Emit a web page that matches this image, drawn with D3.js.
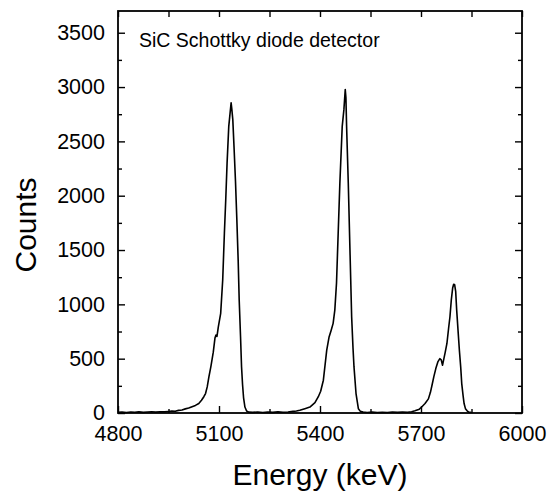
<!DOCTYPE html>
<html>
<head>
<meta charset="utf-8">
<script src="https://cdn.jsdelivr.net/npm/d3@7"></script>
<style>
  body { margin: 0; background: #fff; }
  text { font-family: "Liberation Sans", Arial, sans-serif; fill: #000; }
</style>
</head>
<body>
<div id="chart"></div>
<script>
// Spectrum: energy (keV) and counts
var energy = [4800, 4812, 4825, 4838, 4850, 4862, 4875, 4888, 4900, 4912, 4925, 4938, 4950, 4960, 4970, 4980, 4990, 5000, 5010, 5020, 5030, 5040, 5048, 5055, 5060, 5065, 5070, 5076, 5083, 5088, 5091, 5094, 5098, 5105, 5111, 5116, 5120, 5124, 5129, 5133, 5136, 5138, 5141, 5145, 5149, 5153, 5157, 5160, 5164, 5167, 5170, 5173, 5177, 5182, 5188,
  5200, 5215, 5230, 5245, 5260, 5275, 5290, 5305, 5320, 5330, 5340, 5355, 5370, 5385, 5395, 5402, 5410, 5420, 5427, 5433, 5439, 5444, 5449, 5454, 5459, 5466, 5471, 5475, 5477, 5479, 5484, 5489, 5494, 5498, 5501, 5507, 5514, 5520, 5528,
  5540, 5555, 5570, 5585, 5600, 5615, 5630, 5645, 5660, 5672, 5682, 5695, 5702, 5712, 5722, 5728, 5733, 5738, 5744, 5750, 5756, 5760, 5764, 5768, 5772, 5777, 5782, 5786, 5790, 5794, 5797, 5800, 5803, 5806, 5810, 5814, 5818, 5821, 5825, 5828, 5832, 5837, 5842, 5850];
var counts = [6, 8, 5, 9, 7, 10, 6, 9, 11, 8, 12, 10, 14, 18, 16, 24, 28, 38, 46, 58, 70, 88, 117, 150, 179, 240, 332, 430, 560, 690, 717, 705, 793, 917, 1224, 1655, 1960, 2300, 2638, 2762, 2854, 2800, 2700, 2423, 2130, 1780, 1400, 1040, 700, 424, 260, 140, 55, 18, 8,
  6, 9, 5, 8, 6, 10, 7, 9, 15, 18, 25, 40, 55, 95, 150, 200, 302, 578, 700, 760, 825, 947, 1194, 1655, 2116, 2638, 2792, 2977, 2900, 2638, 2116, 1501, 886, 600, 424, 179, 40, 15, 8,
  5, 8, 4, 7, 5, 9, 6, 8, 7, 12, 20, 35, 55, 87, 130, 190, 260, 332, 409, 470, 500, 490, 440, 500, 560, 640, 780, 886, 1040, 1150, 1185, 1180, 1120, 947, 760, 578, 420, 271, 160, 87, 40, 20, 8, 5];

var xMajor = [4800, 5100, 5400, 5700, 6000];
var xMinor = [4950, 5250, 5550, 5850];
var yMajor = [0, 500, 1000, 1500, 2000, 2500, 3000, 3500];
var yMinor = [250, 750, 1250, 1750, 2250, 2750, 3250];

var svgWidth = 553;
var svgHeight = 493;

var chartMargin = { top: 11, right: 31, bottom: 80, left: 118 };
var chartWidth = svgWidth - chartMargin.left - chartMargin.right;
var chartHeight = svgHeight - chartMargin.top - chartMargin.bottom;

var svg = d3.select("#chart")
  .append("svg")
  .attr("width", svgWidth)
  .attr("height", svgHeight);

var chartGroup = svg.append("g")
  .attr("transform", `translate(${chartMargin.left}, ${chartMargin.top})`);

var xScale = d3.scaleLinear().domain([4800, 6000]).range([0, chartWidth]);
var yScale = d3.scaleLinear().domain([0, 3700]).range([chartHeight, 0]);

function styleAxis(g) {
  g.select(".domain").remove();
  g.selectAll("line").attr("stroke", "#000").attr("stroke-width", 1.4);
  g.selectAll("text").style("font-size", "21.5px").attr("fill", "#000");
}

// bottom axis with labels, ticks pointing inward
chartGroup.append("g")
  .attr("transform", `translate(0, ${chartHeight})`)
  .call(d3.axisBottom(xScale).tickValues(xMajor).tickSize(-7).tickPadding(13).tickFormat(d3.format("d")))
  .call(styleAxis);
chartGroup.append("g")
  .attr("transform", `translate(0, ${chartHeight})`)
  .call(d3.axisBottom(xScale).tickValues(xMinor).tickSize(-4).tickFormat(""))
  .call(styleAxis);

// left axis
chartGroup.append("g")
  .call(d3.axisLeft(yScale).tickValues(yMajor).tickSize(-7).tickPadding(13).tickFormat(d3.format("d")))
  .call(styleAxis);
chartGroup.append("g")
  .call(d3.axisLeft(yScale).tickValues(yMinor).tickSize(-4).tickFormat(""))
  .call(styleAxis);

// mirrored top and right ticks
chartGroup.append("g")
  .call(d3.axisTop(xScale).tickValues(xMajor.concat(xMinor)).tickSize(-6).tickFormat(""))
  .call(styleAxis);
chartGroup.append("g")
  .attr("transform", `translate(${chartWidth}, 0)`)
  .call(d3.axisRight(yScale).tickValues(yMajor).tickSize(-7).tickFormat(""))
  .call(styleAxis);
chartGroup.append("g")
  .attr("transform", `translate(${chartWidth}, 0)`)
  .call(d3.axisRight(yScale).tickValues(yMinor).tickSize(-4).tickFormat(""))
  .call(styleAxis);

// spectrum line
var points = energy.map((e, i) => [e, counts[i]]);
var line = d3.line()
  .x(d => xScale(d[0]))
  .y(d => yScale(d[1]));

chartGroup.append("path")
  .datum(points)
  .attr("d", line)
  .attr("fill", "none")
  .attr("stroke", "#000")
  .attr("stroke-width", 1.6)
  .attr("stroke-linejoin", "round");

// frame
chartGroup.append("rect")
  .attr("width", chartWidth)
  .attr("height", chartHeight)
  .attr("fill", "none")
  .attr("stroke", "#000")
  .attr("stroke-width", 1.8);

// annotation and axis titles
chartGroup.append("text")
  .attr("x", 21)
  .attr("y", 36)
  .style("font-size", "19.5px")
  .text("SiC Schottky diode detector");

svg.append("text")
  .attr("transform", "rotate(-90)")
  .attr("x", -225)
  .attr("y", 36)
  .attr("text-anchor", "middle")
  .style("font-size", "30px")
  .text("Counts");

svg.append("text")
  .attr("x", chartMargin.left + chartWidth / 2)
  .attr("y", 485)
  .attr("text-anchor", "middle")
  .style("font-size", "30px")
  .text("Energy (keV)");
</script>
</body>
</html>
